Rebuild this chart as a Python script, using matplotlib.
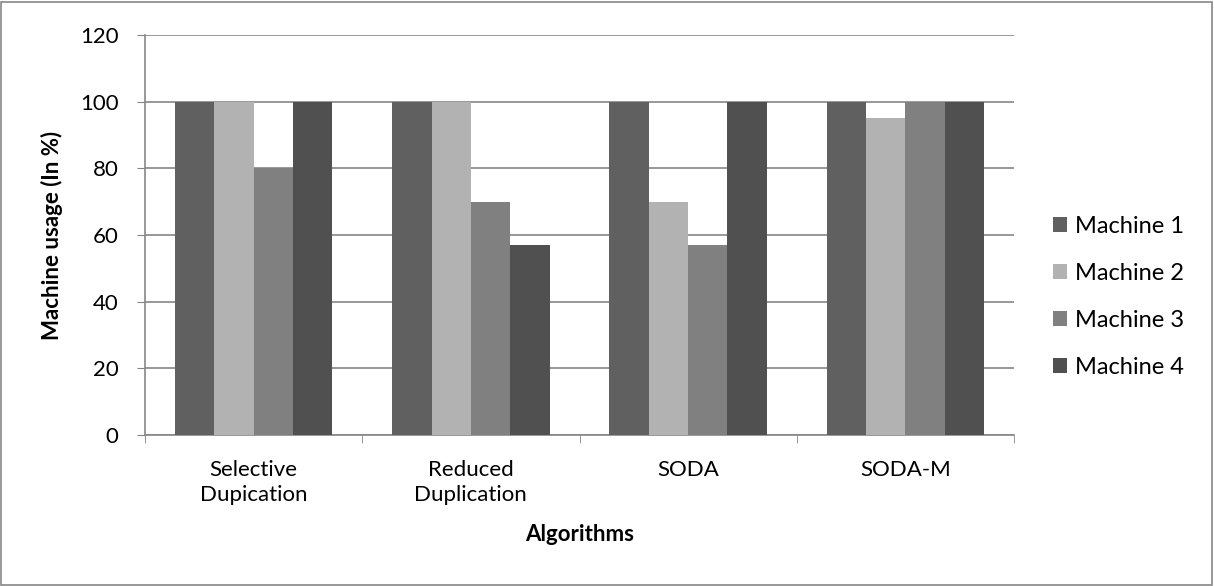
import matplotlib.pyplot as plt
import numpy as np

# data
algorithms = ['Selective\nDupication', 'Reduced\nDuplication', 'SODA', 'SODA-M']
machines = ['Machine 1', 'Machine 2', 'Machine 3', 'Machine 4']
m1 = [100, 100, 100, 100]
m2 = [100, 100, 70, 95]
m3 = [80, 70, 57, 100]
m4 = [100, 57, 100, 100]
yticks = [0, 20, 40, 60, 80, 100, 120]

colours = ['#606060', '#b2b2b2', '#808080', '#505050']
series = [m1, m2, m3, m4]

plt.rcParams['font.family'] = ['Lato', 'DejaVu Sans']

fig = plt.figure(figsize=(12.14, 5.86), dpi=100)
ax = fig.add_axes([145/1214, 151/586, 869/1214, 400/586])

x = np.arange(len(algorithms))
w = 0.181
for k in range(4):
    ax.bar(x + (k - 1.5)*w, series[k], width=w, color=colours[k], label=machines[k], zorder=3)

ax.set_xlim(-0.5, 3.5)
ax.set_ylim(0, 120)
ax.set_yticks(yticks)
ax.set_xticks(x)
ax.set_xticklabels(algorithms, fontsize=16, linespacing=1.3)
ax.tick_params(axis='x', length=0, pad=18)
ax.set_xticks(np.arange(-0.5, 4, 1), minor=True)
ax.tick_params(axis='x', which='minor', length=6, color='#868686')
ax.tick_params(axis='y', length=6, color='#868686', labelsize=16, pad=13)
ax.grid(axis='y', color='#868686', linewidth=1.2, zorder=0)

for s in ['top', 'right']:
    ax.spines[s].set_visible(False)
for s in ['left', 'bottom']:
    ax.spines[s].set_color('#868686')
    ax.spines[s].set_linewidth(1.2)

ax.set_xlabel('Algorithms', fontsize=16, fontweight='bold', labelpad=14)
ax.set_ylabel('Machine usage (In %)', fontsize=16, fontweight='bold', labelpad=12)

fig.legend(*ax.get_legend_handles_labels(), loc='center left',
           bbox_to_anchor=(1053/1214, (586-297)/586), frameon=False, fontsize=17,
           handlelength=0.6, handleheight=0.6, labelspacing=1.1, handletextpad=0.35,
           borderpad=0, borderaxespad=0)

# outer chart border
fig.patches.append(plt.Rectangle((0.001, 0.002), 0.997, 0.995, transform=fig.transFigure,
                                 fill=False, edgecolor='#868686', linewidth=1.2))

fig.savefig('out.png', dpi=100)
